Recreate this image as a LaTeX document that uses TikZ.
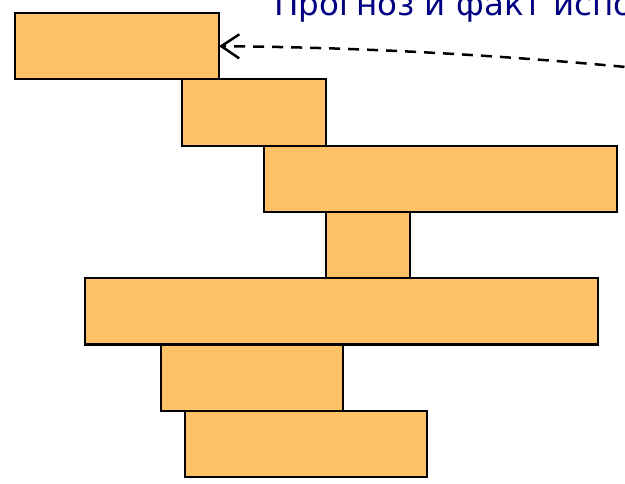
\documentclass[tikz,border=0pt]{standalone}
\usepackage{fontspec}
\setmainfont{DejaVu Sans}
\usetikzlibrary{arrows.meta}
\definecolor{barfill}{RGB}{254,193,102}
\definecolor{titleblue}{RGB}{0,0,128}
\begin{document}
\begin{tikzpicture}[x=1pt,y=-1pt,
  bar/.style={draw, line width=2.2pt, fill=barfill, anchor=north west, inner sep=0pt, outer sep=0pt, minimum height=66.3pt}]
\useasboundingbox (0,0) rectangle (625,483);
\node[anchor=base west, inner sep=0pt, text=titleblue, font=\fontsize{32.5}{38}\selectfont] (title) at (274,15) {Прогноз и факт испо};
\node[bar, minimum width=204pt] (1) at (15,13) {};
\node[bar, minimum width=144pt] (2) at (182,79.3) {};
\node[bar, minimum width=353pt] (3) at (264,145.6) {};
\node[bar, minimum width=84pt] (4) at (326,211.9) {};
\node[bar, minimum width=513pt] (5) at (85,278.2) {};
\node[bar, minimum width=182pt] (6) at (161,344.5) {};
\node[bar, minimum width=242pt] (7) at (185,410.8) {};
\coordinate (src) at (719,76.5);

\path[draw, line width=2.5pt, dash pattern=on 11pt off 8pt, -{Straight Barb[length=18pt,width=24pt]}] (src) .. controls (552,58) and (386,47.5) .. (1.east);
\end{tikzpicture}
\end{document}
